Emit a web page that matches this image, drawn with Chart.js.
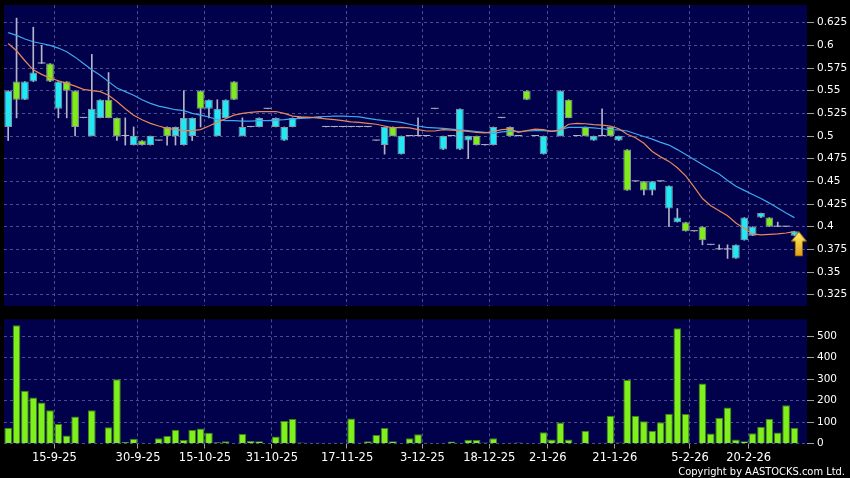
<!DOCTYPE html>
<html>
<head>
<meta charset="utf-8">
<script src="https://cdn.jsdelivr.net/npm/chart.js@4.4.1/dist/chart.umd.min.js"></script>
<style>
  html, body { margin: 0; padding: 0; background: #000; }
  #wrap { position: relative; width: 850px; height: 478px; overflow: hidden; background: #000; }
  #priceBox { position: absolute; left: 0; top: 0; width: 850px; height: 310px; }
  #volBox { position: absolute; left: 0; top: 310px; width: 850px; height: 168px; }
  #copy { position: absolute; right: 5px; top: 465px; color: #fff; white-space: nowrap;
          font: 11px/13px 'DejaVu Sans Condensed', 'DejaVu Sans', sans-serif; }
</style>
</head>
<body>
<div id="wrap">
  <div id="priceBox"><canvas id="priceChart" width="850" height="310"></canvas></div>
  <div id="volBox"><canvas id="volChart" width="850" height="168"></canvas></div>
  <div id="copy">Copyright by AASTOCKS.com Ltd.</div>
</div>
<script>
// daily candles, left to right
var opens = [0.51, 0.56, 0.54, 0.56, 0.58, 0.58, 0.53, 0.56, 0.55, 0.52,
  0.50, 0.52, 0.54, 0.52, 0.50, 0.49, 0.495, 0.49, 0.495, 0.51,
  0.50, 0.49, 0.50, 0.55, 0.53, 0.50, 0.52, 0.56, 0.50, 0.51,
  0.51, 0.53, 0.51, 0.495, 0.51, 0.52, 0.52, 0.52, 0.51, 0.51,
  0.51, 0.51, 0.51, 0.51, 0.495, 0.49, 0.51, 0.48, 0.50, 0.50,
  0.50, 0.53, 0.485, 0.50, 0.485, 0.495, 0.50, 0.49, 0.49, 0.52,
  0.51, 0.50, 0.55, 0.50, 0.48, 0.505, 0.50, 0.54, 0.50, 0.51,
  0.495, 0.50, 0.51, 0.495, 0.485, 0.45, 0.45, 0.44, 0.45, 0.42,
  0.405, 0.405, 0.395, 0.40, 0.38, 0.375, 0.375, 0.365, 0.385, 0.39,
  0.41, 0.41, 0.40, 0.40, 0.39];
var highs = [0.55, 0.63, 0.56, 0.62, 0.60, 0.58, 0.56, 0.56, 0.55, 0.52,
  0.59, 0.54, 0.57, 0.52, 0.52, 0.51, 0.495, 0.50, 0.495, 0.51,
  0.51, 0.55, 0.52, 0.55, 0.54, 0.54, 0.54, 0.56, 0.52, 0.51,
  0.52, 0.53, 0.52, 0.51, 0.52, 0.52, 0.52, 0.52, 0.51, 0.51,
  0.51, 0.51, 0.51, 0.51, 0.495, 0.51, 0.51, 0.50, 0.50, 0.52,
  0.50, 0.53, 0.50, 0.50, 0.53, 0.50, 0.50, 0.49, 0.51, 0.52,
  0.51, 0.50, 0.55, 0.50, 0.50, 0.505, 0.55, 0.54, 0.50, 0.51,
  0.50, 0.53, 0.51, 0.50, 0.485, 0.45, 0.45, 0.45, 0.45, 0.445,
  0.42, 0.405, 0.395, 0.40, 0.38, 0.38, 0.38, 0.38, 0.41, 0.40,
  0.415, 0.41, 0.405, 0.40, 0.395];
var lows = [0.495, 0.52, 0.54, 0.56, 0.58, 0.56, 0.52, 0.52, 0.50, 0.52,
  0.50, 0.52, 0.52, 0.495, 0.49, 0.49, 0.49, 0.49, 0.495, 0.49,
  0.49, 0.49, 0.495, 0.51, 0.52, 0.50, 0.52, 0.54, 0.50, 0.51,
  0.51, 0.53, 0.51, 0.495, 0.51, 0.52, 0.52, 0.52, 0.51, 0.51,
  0.51, 0.51, 0.51, 0.51, 0.495, 0.48, 0.50, 0.48, 0.50, 0.50,
  0.50, 0.53, 0.485, 0.50, 0.485, 0.475, 0.49, 0.49, 0.49, 0.52,
  0.50, 0.50, 0.54, 0.50, 0.48, 0.505, 0.50, 0.52, 0.50, 0.50,
  0.495, 0.50, 0.50, 0.495, 0.44, 0.45, 0.435, 0.435, 0.45, 0.40,
  0.405, 0.395, 0.395, 0.38, 0.38, 0.375, 0.365, 0.365, 0.385, 0.39,
  0.41, 0.40, 0.40, 0.40, 0.39];
var closes = [0.55, 0.54, 0.56, 0.57, 0.58, 0.56, 0.56, 0.55, 0.51, 0.52,
  0.53, 0.54, 0.52, 0.50, 0.50, 0.50, 0.49, 0.50, 0.495, 0.50,
  0.51, 0.52, 0.52, 0.53, 0.54, 0.53, 0.54, 0.54, 0.51, 0.51,
  0.52, 0.53, 0.52, 0.51, 0.52, 0.52, 0.52, 0.52, 0.51, 0.51,
  0.51, 0.51, 0.51, 0.51, 0.495, 0.51, 0.50, 0.50, 0.50, 0.50,
  0.50, 0.53, 0.50, 0.50, 0.53, 0.50, 0.49, 0.49, 0.51, 0.52,
  0.50, 0.50, 0.54, 0.50, 0.50, 0.505, 0.55, 0.52, 0.50, 0.50,
  0.50, 0.50, 0.50, 0.50, 0.44, 0.45, 0.44, 0.45, 0.45, 0.445,
  0.41, 0.395, 0.395, 0.385, 0.38, 0.375, 0.375, 0.38, 0.41, 0.40,
  0.415, 0.40, 0.40, 0.40, 0.395];
// turnover, thousand shares
var volumes = [73, 550, 246, 214, 191, 155, 91, 37, 126, 0,
  155, 0, 76, 299, 8, 22, 4, 0, 25, 35,
  64, 16, 63, 70, 50, 6, 10, 0, 44, 12,
  11, 0, 32, 105, 114, 5, 4, 4, 0, 4,
  4, 116, 4, 10, 39, 72, 11, 0, 24, 43,
  4, 0, 0, 9, 4, 17, 16, 5, 25, 0,
  4, 5, 0, 0, 52, 19, 98, 19, 0, 59,
  0, 4, 129, 5, 295, 129, 103, 59, 99, 138,
  536, 137, 0, 279, 47, 120, 167, 19, 11, 48,
  78, 115, 51, 178, 73];
// moving averages
var ma10 = [0.602, 0.594, 0.583, 0.573, 0.568, 0.564, 0.561, 0.558, 0.555, 0.5515,
  0.550, 0.549, 0.545, 0.538, 0.530, 0.523, 0.518, 0.514, 0.511, 0.5085,
  0.507, 0.506, 0.506, 0.507, 0.511, 0.515, 0.519, 0.523, 0.525, 0.526,
  0.527, 0.527, 0.527, 0.525, 0.522, 0.521, 0.5205, 0.520, 0.519, 0.518,
  0.517, 0.5155, 0.515, 0.514, 0.513, 0.511, 0.509, 0.5095, 0.509, 0.507,
  0.5055, 0.5055, 0.507, 0.5065, 0.506, 0.505, 0.504, 0.5035, 0.505, 0.507,
  0.5075, 0.504, 0.506, 0.5075, 0.507, 0.505, 0.5065, 0.513, 0.514, 0.5135,
  0.5125, 0.512, 0.511, 0.508, 0.502, 0.498, 0.492, 0.483, 0.477, 0.472,
  0.465, 0.456, 0.444, 0.431, 0.423, 0.4175, 0.412, 0.404, 0.398, 0.392,
  0.391, 0.3915, 0.392, 0.393, 0.3945];
var ma20 = [0.614, 0.611, 0.607, 0.604, 0.602, 0.600, 0.597, 0.593, 0.587, 0.580,
  0.573, 0.567, 0.560, 0.553, 0.549, 0.545, 0.540, 0.536, 0.533, 0.531,
  0.529, 0.528, 0.525, 0.523, 0.521, 0.518, 0.517, 0.517, 0.5165, 0.5165,
  0.517, 0.517, 0.5175, 0.518, 0.519, 0.5195, 0.520, 0.521, 0.5215, 0.522,
  0.522, 0.5215, 0.521, 0.5195, 0.518, 0.517, 0.516, 0.515, 0.513, 0.511,
  0.5095, 0.509, 0.5085, 0.5075, 0.5067, 0.506, 0.505, 0.504, 0.503, 0.5045,
  0.505, 0.505, 0.5055, 0.506, 0.506, 0.505, 0.507, 0.5095, 0.5096, 0.5096,
  0.509, 0.508, 0.507, 0.5067, 0.5055, 0.5025, 0.4995, 0.4965, 0.493, 0.490,
  0.485, 0.4795, 0.474, 0.4685, 0.463, 0.458, 0.451, 0.4445, 0.440, 0.4355,
  0.431, 0.426, 0.4205, 0.415, 0.410];

var tickDates = ['15-9-25', '30-9-25', '15-10-25', '31-10-25', '17-11-25', '3-12-25',
  '18-12-25', '2-1-26', '21-1-26', '5-2-26', '20-2-26'];
var tickSlots = [6, 16, 24, 32, 41, 50, 58, 65, 73, 82, 89];
var priceTicks = [0.325, 0.35, 0.375, 0.4, 0.425, 0.45, 0.475, 0.5, 0.525, 0.55, 0.575, 0.6, 0.625];
var volTicks = [0, 100, 200, 300, 400, 500];

var BG = '#00004b';
var GRID = '#4c4c92';
var UP = '#22e8f4';
var DOWN = '#80ea1c';
var FLAT = '#b4b4c8';
var EDGE = '#8a94a4';
var TICK = '#a0a0a0';
var FONT = "'DejaVu Sans', sans-serif";

// one extra empty slot on the right holds the "last price" arrow
var slotCount = closes.length + 1;
var dayLabels = [];
for (var i = 0; i < slotCount; i++) dayLabels.push('');
tickSlots.forEach(function (s, j) { dayLabels[s] = tickDates[j]; });

var bodies = opens.map(function (o, i) { return [o, closes[i]]; });
var wicks = lows.map(function (l, i) { return [l, highs[i]]; });
var marker = dayLabels.map(function () { return null; });
marker[slotCount - 1] = closes[closes.length - 1];

function bodyColor(i) {
  if (closes[i] > opens[i]) return UP;
  if (closes[i] < opens[i]) return DOWN;
  return FLAT;
}

// yellow up-arrow, tip sits on the point
var arrowImg = document.createElement('canvas');
arrowImg.width = 24;
arrowImg.height = 52;
var g = arrowImg.getContext('2d');
var grad = g.createLinearGradient(0, 26, 0, 51);
grad.addColorStop(0, '#fff36e');
grad.addColorStop(1, '#e2a012');
g.fillStyle = grad;
g.strokeStyle = '#a87400';
g.lineWidth = 1;
g.beginPath();
g.moveTo(8, 26.5);
g.lineTo(15.5, 36);
g.lineTo(11.5, 36);
g.lineTo(11.5, 50.5);
g.lineTo(4.5, 50.5);
g.lineTo(4.5, 36);
g.lineTo(0.5, 36);
g.closePath();
g.fill();
g.stroke();

var panelBg = {
  id: 'panelBg',
  beforeDraw: function (chart) {
    var a = chart.chartArea, c = chart.ctx;
    c.save();
    c.fillStyle = BG;
    c.fillRect(a.left, a.top, a.right - a.left, a.bottom - a.top);
    c.restore();
  }
};

function noPad(s) {
  s.paddingTop = 0;
  s.paddingBottom = 0;
  s.paddingLeft = 0;
  s.paddingRight = 0;
}

function xAxis(showLabels) {
  return {
    type: 'category',
    labels: dayLabels,
    offset: true,
    grid: {
      offset: true,
      color: function (c) { return dayLabels[c.index] ? GRID : 'transparent'; },
      tickColor: function (c) { return dayLabels[c.index] ? TICK : 'transparent'; },
      drawTicks: showLabels,
      tickLength: 5
    },
    border: { display: false, dash: [3, 3] },
    ticks: {
      display: showLabels,
      autoSkip: false,
      maxRotation: 0,
      minRotation: 0,
      labelOffset: -4,
      padding: 3,
      color: '#ffffff',
      font: { family: FONT, size: 11.5 }
    },
    afterFit: function (s) {
      noPad(s);
      s.height = showLabels ? 22 : 0;
    }
  };
}

function yAxis(min, max, list) {
  return {
    position: 'right',
    min: min,
    max: max,
    afterBuildTicks: function (s) { s.ticks = list.map(function (v) { return { value: v }; }); },
    afterFit: function (s) {
      noPad(s);
      s.width = 43;
    },
    grid: { color: GRID, tickColor: TICK, tickLength: 7 },
    border: { display: false, dash: [3, 3] },
    ticks: {
      padding: 3,
      color: '#ffffff',
      font: { family: FONT, size: 10.5 },
      callback: function (v) { return String(+Number(v).toFixed(3)); }
    }
  };
}

new Chart(document.getElementById('priceChart'), {
  type: 'bar',
  data: {
    labels: dayLabels,
    datasets: [
      { type: 'line', label: 'last', data: marker, showLine: false,
        pointStyle: arrowImg, pointRadius: 6, order: -1 },
      { type: 'line', label: 'MA10', data: ma10, borderColor: '#e8875a',
        borderWidth: 1.2, pointRadius: 0, order: 0 },
      { type: 'line', label: 'MA20', data: ma20, borderColor: '#3ea8f0',
        borderWidth: 1.2, pointRadius: 0, order: 0 },
      { type: 'bar', label: 'body', data: bodies, grouped: false,
        categoryPercentage: 1, barPercentage: 0.92, minBarLength: 1,
        backgroundColor: function (c) { return bodyColor(c.dataIndex); },
        borderColor: function (c) { return bodyColor(c.dataIndex) === FLAT ? FLAT : EDGE; },
        borderWidth: function (c) { return bodyColor(c.dataIndex) === FLAT ? 0 : 1; },
        borderSkipped: false, order: 1 },
      { type: 'bar', label: 'wick', data: wicks, grouped: false,
        barThickness: 1, backgroundColor: FLAT, order: 2 }
    ]
  },
  options: {
    responsive: false,
    animation: false,
    events: [],
    layout: { autoPadding: false, padding: { left: 4, right: 0, top: 5, bottom: 4 } },
    plugins: { legend: { display: false }, tooltip: { enabled: false } },
    scales: {
      x: xAxis(false),
      y: yAxis(0.3125, 0.6445, priceTicks)
    }
  },
  plugins: [panelBg]
});

new Chart(document.getElementById('volChart'), {
  type: 'bar',
  data: {
    labels: dayLabels,
    datasets: [{
      label: 'Volume', data: volumes,
      backgroundColor: '#7ff01c', borderColor: '#3f8012', borderWidth: 1,
      categoryPercentage: 1, barPercentage: 0.92
    }]
  },
  options: {
    responsive: false,
    animation: false,
    events: [],
    layout: { autoPadding: false, padding: { left: 4, right: 0, top: 9.3, bottom: 12.5 } },
    plugins: { legend: { display: false }, tooltip: { enabled: false } },
    scales: {
      x: xAxis(true),
      y: yAxis(0, 578, volTicks)
    }
  },
  plugins: [panelBg]
});
</script>
</body>
</html>
